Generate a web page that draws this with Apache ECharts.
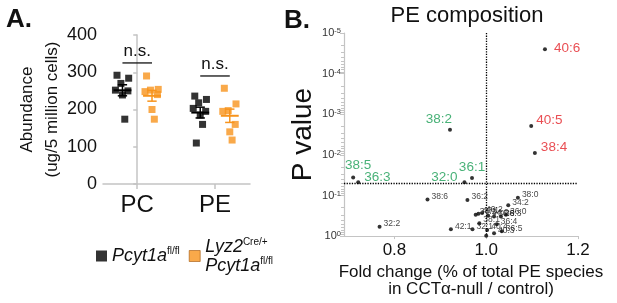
<!DOCTYPE html>
<html><head><meta charset="utf-8">
<script src="https://cdn.jsdelivr.net/npm/echarts@6/dist/echarts.min.js"></script>
<style>html,body{margin:0;padding:0;background:#fff}#c{width:617px;height:303px}</style>
</head><body><div id="c"></div>
<script>
// ---------- Panel A data ----------
const classes = ['PC', 'PE'];
const ctrlPC = [292, 284, 270, 252, 250, 239, 174];
const koPC   = [290, 254, 252, 248, 240, 200, 174];
const ctrlPE = [236, 227, 218, 203, 195, 185, 160, 110];
const koPE   = [257, 215, 197, 195, 160, 140, 118];
const yTicksA = [0, 100, 200, 300, 400];
const nsLevels = [325, 290];

// ---------- Panel B data ----------
const speciesNames = ['40:6','38:2','40:5','38:4','38:5','36:3','32:0','36:1','38:6','36:2','38:0','34:2','32:2','42:1',
  '34:1','40:1','40:2','34:0','36:6','38:3','36:0','38:1','36:4','32:1','40:4','36:5','40:3','34:3'];
const foldChange = [1.128,0.921,1.098,1.106,0.710,0.721,0.9525,0.969,0.872,0.959,1.069,1.048,0.7675,0.923,
  0.977,0.983,0.991,1.004,1.017,1.032,1.043,0.985,1.023,0.970,1.002,1.034,1.017,1.000];
const pValues = [2.5e-5,0.0024,0.00195,0.009,0.036,0.047,0.047,0.037,0.125,0.13,0.114,0.175,0.59,0.68,
  0.30,0.28,0.27,0.31,0.33,0.33,0.30,0.48,0.51,0.68,0.71,0.76,0.85,0.98];
const xTicksB = [0.8, 1.0, 1.2];
const pThreshold = 0.05;
const foldRef = 1.0;

// ---------- styles ----------
const FONT = '"Liberation Sans", Arial, sans-serif';
const BLACK = '#000', ORANGE = '#f7941d', RED = '#e42228', GREEN = '#1a9e55', AXIS = '#c4c4c4';
const groupOffset = 0.19;
const jitterPattern = [-0.07, 0.08, -0.02, -0.09, 0.07, 0.0, 0.03, -0.05];
const SYM = 4;
// label placement: side, gap from point edge, extra shift [dx, dy]
const labelStyle = {
  '38:5': {side: 'top', gap: 3, shift: [5, 0]},
  '36:3': {side: 'right', gap: 4, shift: [0, -5]},
  '32:0': {side: 'left', gap: 5, shift: [0, -5]},
  '36:1': {side: 'top', gap: 2, shift: [0, 0]},
  '38:2': {side: 'top', gap: 1, shift: [-11, 0]},
  '40:5': {side: 'right', gap: 3, shift: [0, -6]},
  '38:4': {side: 'right', gap: 4, shift: [0, -6]},
  '40:6': {side: 'right', gap: 7, shift: [0, -1]}
};
function labelPlacement(st) {
  const [dx, dy] = st.shift;
  if (st.side === 'top') return {position: [SYM / 2 + dx, -st.gap + dy], align: 'center', verticalAlign: 'bottom'};
  if (st.side === 'left') return {position: [-st.gap + dx, SYM / 2 + dy], align: 'right', verticalAlign: 'middle'};
  return {position: [SYM + st.gap + dx, SYM / 2 + dy], align: 'left', verticalAlign: 'middle'};
}

function mean(a) { return a.reduce((s, v) => s + v, 0) / a.length; }
function sem(a) { const m = mean(a); return Math.sqrt(a.reduce((s, v) => s + (v - m) * (v - m), 0) / (a.length - 1)) / Math.sqrt(a.length); }
function pts(vals, cat, g) { return vals.map((v, i) => [cat + (g ? groupOffset : -groupOffset) + jitterPattern[i % jitterPattern.length], v]); }

const groupsA = [[ctrlPC, 0, 0], [koPC, 0, 1], [ctrlPE, 1, 0], [koPE, 1, 1]];
const meanData = groupsA.map(([vals, cat, g]) => [cat + (g ? groupOffset : -groupOffset), mean(vals), sem(vals), g]);

const bData = speciesNames.map((n, i) => {
  const sig = pValues[i] < pThreshold;
  const col = sig ? (foldChange[i] > foldRef ? RED : GREEN) : '#111';
  const st = labelStyle[n] || {side: 'right', gap: 2, shift: [0, -3]};
  return {
    name: n, value: [foldChange[i], pValues[i]],
    label: Object.assign({show: n !== '34:3', formatter: n, color: col, fontSize: sig ? 13.5 : 8.5, fontFamily: FONT},
      labelPlacement(st))
  };
});

const chart = echarts.init(document.getElementById('c'));
chart.setOption({
  animation: false,
  textStyle: {fontFamily: FONT},
  title: [
    {text: 'A.', left: 1, top: 2, textStyle: {fontSize: 26, fontWeight: 'bold', color: '#111', fontFamily: FONT}},
    {text: 'B.', left: 279, top: 3, textStyle: {fontSize: 26, fontWeight: 'bold', color: '#111', fontFamily: FONT}},
    {text: 'PE composition', left: 462, top: 0, textAlign: 'center', textStyle: {fontSize: 22, fontWeight: 'normal', color: '#111', fontFamily: FONT}}
  ],
  legend: {
    left: 91, top: 232, itemWidth: 11, itemHeight: 11, itemGap: 9,
    data: [
      {name: 'ctrl', icon: 'rect', itemStyle: {color: BLACK}},
      {name: 'ko', icon: 'rect', itemStyle: {color: ORANGE, borderColor: '#a35a10', borderWidth: 0.8}}
    ],
    formatter: n => n === 'ctrl' ? '{i|Pcyt1a}{s|fl/fl}' : '{i|Lyz2}{s|Cre/+}\n{i|Pcyt1a}{s|fl/fl}',
    textStyle: {
      color: '#111', padding: [0, 0, 0, 0],
      rich: {
        i: {fontStyle: 'italic', fontSize: 18, lineHeight: 19, fontFamily: FONT, color: '#111'},
        s: {fontSize: 10, lineHeight: 10, verticalAlign: 'top', fontFamily: FONT, color: '#111'}
      }
    }
  },
  grid: [
    {left: 103, top: 35, width: 147, height: 149},
    {left: 344, top: 33, width: 234, height: 205}
  ],
  xAxis: [
    {gridIndex: 0, type: 'value', min: -0.44, max: 1.45,
      axisLine: {show: true, lineStyle: {color: AXIS, width: 1.5}},
      axisTick: {show: true, customValues: [0, 1], length: 5, lineStyle: {color: AXIS, width: 1.5}},
      axisLabel: {customValues: [0, 1], formatter: v => classes[Math.round(v)], fontSize: 24, color: '#111', margin: 9},
      splitLine: {show: false}},
    {gridIndex: 1, type: 'value', min: 0.69, max: 1.2,
      axisLine: {show: true, lineStyle: {color: AXIS, width: 1.2}},
      axisTick: {show: true, customValues: xTicksB, length: 3, lineStyle: {color: AXIS}},
      axisLabel: {customValues: xTicksB, formatter: v => v.toFixed(1), fontSize: 17, color: '#111', margin: 6},
      splitLine: {show: false},
      name: 'Fold change (% of total PE species\nin CCTα-null / control)', nameLocation: 'middle', nameGap: 22,
      nameTextStyle: {fontSize: 17, lineHeight: 17, color: '#111', verticalAlign: 'top', padding: [0, 0, 0, 20]}}
  ],
  yAxis: [
    {gridIndex: 0, type: 'value', min: 0, max: 400, interval: 100,
      axisLine: {show: true, lineStyle: {color: AXIS, width: 1.5}},
      axisTick: {show: true, length: 4, lineStyle: {color: AXIS, width: 1.5}},
      axisLabel: {fontSize: 18, color: '#111', margin: 6},
      splitLine: {show: false},
      name: 'Abundance\n(ug/5 million cells)', nameLocation: 'middle', nameGap: 38, nameRotate: 90,
      nameMoveOverlap: false,
      nameTextStyle: {fontSize: 17, lineHeight: 25, color: '#111'}},
    {gridIndex: 1, type: 'log', logBase: 10, min: 1e-5, max: 1, inverse: true,
      axisLine: {show: true, lineStyle: {color: AXIS, width: 1.2}},
      axisTick: {show: true, length: 4, lineStyle: {color: AXIS}},
      minorTick: {show: true, splitNumber: 9, length: 3, lineStyle: {color: AXIS}},
      axisLabel: {
        margin: 3, color: '#333',
        formatter: v => '{b|10}{s|' + Math.round(Math.log10(v)) + '}',
        rich: {b: {fontSize: 11, color: '#333', fontFamily: FONT, lineHeight: 12},
               s: {fontSize: 7.5, color: '#333', fontFamily: FONT, verticalAlign: 'top', lineHeight: 7}}
      },
      splitLine: {show: false},
      name: 'P value', nameLocation: 'middle', nameGap: 27, nameRotate: 90,
      nameTextStyle: {fontSize: 28, color: '#111'}}
  ],
  series: [
    {name: 'ctrl', type: 'scatter', xAxisIndex: 0, yAxisIndex: 0, symbol: 'rect', symbolSize: 7,
      itemStyle: {color: BLACK}, data: pts(ctrlPC, 0, 0).concat(pts(ctrlPE, 1, 0))},
    {name: 'ko', type: 'scatter', xAxisIndex: 0, yAxisIndex: 0, symbol: 'rect', symbolSize: 7,
      itemStyle: {color: ORANGE}, data: pts(koPC, 0, 1).concat(pts(koPE, 1, 1))},
    {name: 'meanSEM', type: 'custom', xAxisIndex: 0, yAxisIndex: 0, data: meanData, z: 5,
      renderItem(params, api) {
        const x = api.value(0), m = api.value(1), s = api.value(2), g = api.value(3);
        const c = api.coord([x, m]), hi = api.coord([x, m + s]), lo = api.coord([x, m - s]);
        const hm = api.size([0.115, 0])[0], hw = api.size([0.06, 0])[0];
        const col = g ? ORANGE : BLACK;
        return {type: 'group', children: [
          {type: 'line', shape: {x1: c[0] - hm, y1: c[1], x2: c[0] + hm, y2: c[1]}, style: {stroke: col, lineWidth: 2}},
          {type: 'line', shape: {x1: c[0], y1: hi[1], x2: c[0], y2: lo[1]}, style: {stroke: col, lineWidth: 1.5}},
          {type: 'line', shape: {x1: c[0] - hw, y1: hi[1], x2: c[0] + hw, y2: hi[1]}, style: {stroke: col, lineWidth: 1.5}},
          {type: 'line', shape: {x1: c[0] - hw, y1: lo[1], x2: c[0] + hw, y2: lo[1]}, style: {stroke: col, lineWidth: 1.5}}
        ]};
      }},
    {name: 'ns', type: 'custom', xAxisIndex: 0, yAxisIndex: 0, data: nsLevels.map((v, i) => [i, v]),
      renderItem(params, api) {
        const c = api.coord([api.value(0), api.value(1)]);
        const hw = api.size([groupOffset, 0])[0];
        return {type: 'group', children: [
          {type: 'line', shape: {x1: c[0] - hw, y1: c[1], x2: c[0] + hw, y2: c[1]}, style: {stroke: '#111', lineWidth: 1.3}},
          {type: 'text', x: c[0], y: c[1] - 3, style: {text: 'n.s.', fontSize: 17, fontFamily: FONT, fill: '#111', align: 'center', verticalAlign: 'bottom'}}
        ]};
      }},
    {name: 'pe', type: 'scatter', xAxisIndex: 1, yAxisIndex: 1, symbolSize: SYM, itemStyle: {color: '#000'},
      data: bData,
      markLine: {silent: true, symbol: 'none', label: {show: false},
        lineStyle: {type: 'dotted', color: '#000', width: 1.3},
        data: [{xAxis: foldRef}, {yAxis: pThreshold}]}}
  ]
});
</script></body></html>
